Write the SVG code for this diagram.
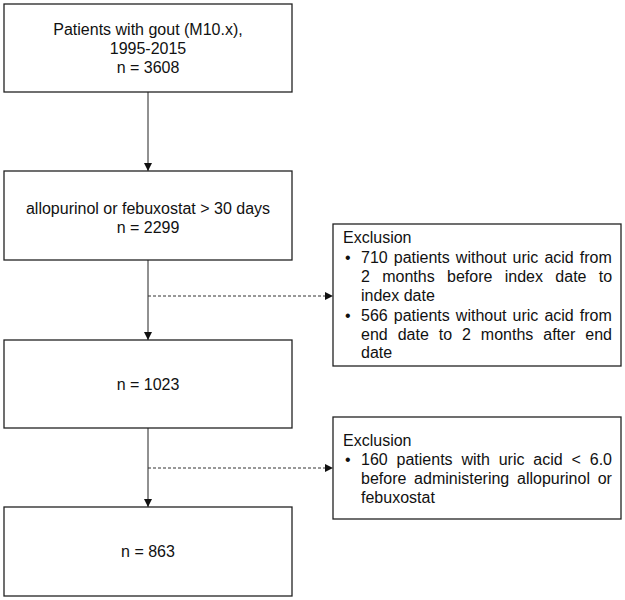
<svg xmlns="http://www.w3.org/2000/svg" width="625" height="600" viewBox="0 0 625 600">
<style>
.box{fill:#fff;stroke:#222;stroke-width:1.3}
.t{font-family:"Liberation Sans",Arial,sans-serif;font-size:16px;fill:#111}
.c{text-anchor:middle}
.ln{stroke:#222;stroke-width:1;fill:none}
.dash{stroke:#333;stroke-width:1;fill:none;stroke-dasharray:3 2}
</style>
<defs>
<marker id="ah" viewBox="0 0 10 10" refX="10" refY="5" markerWidth="8" markerHeight="8" markerUnits="userSpaceOnUse" orient="auto">
<path d="M0,0 L10,5 L0,10 Z" fill="#111"/>
</marker>
</defs>
<rect width="625" height="600" fill="#fff"/>
<g id="connectors">
<line class="ln" x1="148" y1="92" x2="148" y2="171" marker-end="url(#ah)"/>
<line class="ln" x1="148" y1="260" x2="148" y2="340" marker-end="url(#ah)"/>
<line class="ln" x1="148" y1="428" x2="148" y2="507" marker-end="url(#ah)"/>
<line class="dash" x1="148" y1="296" x2="333" y2="296" marker-end="url(#ah)"/>
<line class="dash" x1="148" y1="468" x2="333" y2="468" marker-end="url(#ah)"/>
</g>
<g id="n1">
<rect class="box" x="4" y="4" width="288" height="88"/>
<text class="t c" x="148" y="35">Patients with gout (M10.x),</text>
<text class="t c" x="148" y="54">1995-2015</text>
<text class="t c" x="148" y="73">n = 3608</text>
</g>
<g id="n2">
<rect class="box" x="4" y="171" width="288" height="89"/>
<text class="t c" x="148" y="214">allopurinol or febuxostat &gt; 30 days</text>
<text class="t c" x="148" y="233">n = 2299</text>
</g>
<g id="n3">
<rect class="box" x="4" y="340" width="288" height="88"/>
<text class="t c" x="148" y="390">n = 1023</text>
</g>
<g id="n4">
<rect class="box" x="4" y="507" width="288" height="89"/>
<text class="t c" x="148" y="557">n = 863</text>
</g>
<g id="ex1">
<rect class="box" x="333" y="224" width="288" height="142"/>
<text class="t" x="343" y="243">Exclusion</text>
<text class="t" x="345" y="263">•</text>
<text class="t" x="361" y="263" word-spacing="1.6">710 patients without uric acid from</text>
<text class="t" x="361" y="282" word-spacing="7.9">2 months before index date to</text>
<text class="t" x="361" y="301">index date</text>
<text class="t" x="345" y="321">•</text>
<text class="t" x="361" y="321" word-spacing="1.6">566 patients without uric acid from</text>
<text class="t" x="361" y="340" word-spacing="5.5">end date to 2 months after end</text>
<text class="t" x="361" y="358">date</text>
</g>
<g id="ex2">
<rect class="box" x="333" y="417" width="288" height="102"/>
<text class="t" x="343" y="446">Exclusion</text>
<text class="t" x="345" y="465">•</text>
<text class="t" x="361" y="465" word-spacing="4.4">160 patients with uric acid &lt; 6.0</text>
<text class="t" x="361" y="484" word-spacing="3.3">before administering allopurinol or</text>
<text class="t" x="361" y="503">febuxostat</text>
</g>
</svg>
